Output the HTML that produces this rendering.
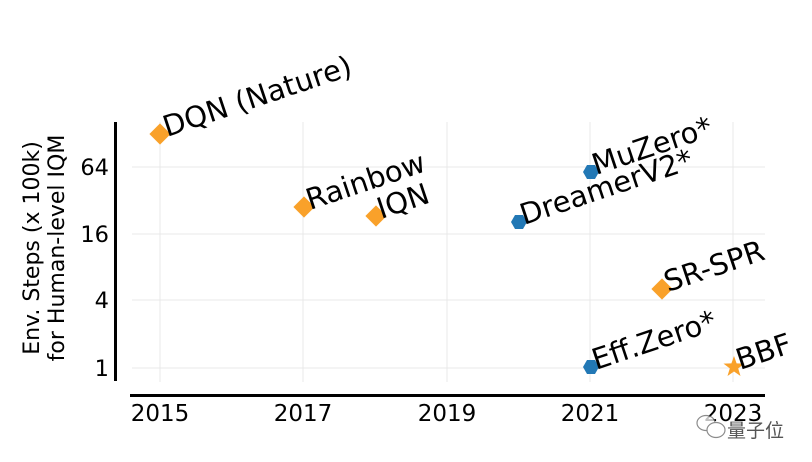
<!DOCTYPE html>
<html><head><meta charset="utf-8"><style>
html,body{margin:0;padding:0;background:#fff;}
svg{display:block;font-family:"DejaVu Sans","Liberation Sans",sans-serif;}
</style></head><body>
<svg width="812" height="462" viewBox="0 0 812 462" xmlns="http://www.w3.org/2000/svg">
<rect width="812" height="462" fill="#fff"/>
<g stroke="#e8e8e8" stroke-width="1">
<line x1="132" y1="368" x2="765" y2="368"/>
<line x1="132" y1="300" x2="765" y2="300"/>
<line x1="132" y1="234" x2="765" y2="234"/>
<line x1="132" y1="167" x2="765" y2="167"/>
<line x1="160" y1="122" x2="160" y2="382"/>
<line x1="303" y1="122" x2="303" y2="382"/>
<line x1="447" y1="122" x2="447" y2="382"/>
<line x1="590" y1="122" x2="590" y2="382"/>
<line x1="733" y1="122" x2="733" y2="382"/>
</g>
<line x1="115.5" y1="122" x2="115.5" y2="381" stroke="#000" stroke-width="3"/>
<line x1="130" y1="395.5" x2="765" y2="395.5" stroke="#000" stroke-width="3"/>
<g font-size="22.5" fill="#000" text-anchor="end">
<text x="109" y="376">1</text>
<text x="109" y="308">4</text>
<text x="109" y="242">16</text>
<text x="109" y="175">64</text>
</g>
<g font-size="23" fill="#000" text-anchor="middle">
<text x="160" y="421">2015</text>
<text x="303" y="421">2017</text>
<text x="447" y="421">2019</text>
<text x="590" y="421">2021</text>
<text x="733" y="421">2023</text>
</g>
<g font-size="22" fill="#000" text-anchor="middle">
<text transform="translate(39,248) rotate(-90)">Env. Steps (x 100k)</text>
<text transform="translate(64,248) rotate(-90)">for Human-level IQM</text>
</g>
<g fill="#f9a12a">
<rect x="-7.5" y="-7.5" width="15" height="15" transform="translate(160,134) rotate(45)"/>
<rect x="-7.5" y="-7.5" width="15" height="15" transform="translate(304,207) rotate(45)"/>
<rect x="-7.5" y="-7.5" width="15" height="15" transform="translate(376,216) rotate(45)"/>
<rect x="-7.5" y="-7.5" width="15" height="15" transform="translate(662,289) rotate(45)"/>
<polygon transform="translate(734,367)" points="0,-11 2.6,-3.6 10.5,-3.4 4.2,1.4 6.5,9 0,4.5 -6.5,9 -4.2,1.4 -10.5,-3.4 -2.6,-3.6"/>
</g>
<g fill="#2278b5">
<polygon transform="translate(519,222)" points="-8,0 -4,-7 4,-7 8,0 4,7 -4,7"/>
<polygon transform="translate(591,172)" points="-8,0 -4,-7 4,-7 8,0 4,7 -4,7"/>
<polygon transform="translate(591,367)" points="-8,0 -4,-7 4,-7 8,0 4,7 -4,7"/>
</g>
<g font-size="29" fill="#000">
<text transform="translate(167,137) rotate(-18.5)">DQN (Nature)</text>
<text transform="translate(310,210) rotate(-18.5)">Rainbow</text>
<text transform="translate(381,219) rotate(-18.5)">IQN</text>
<text transform="translate(524,225) rotate(-18.5)">DreamerV2*</text>
<text transform="translate(596,175) rotate(-18.5)">MuZero*</text>
<text transform="translate(668,292) rotate(-18.5)">SR-SPR</text>
<text transform="translate(596,370) rotate(-18.5)">Eff.Zero*</text>
<text transform="translate(740,370) rotate(-18.5)">BBF</text>
</g>
<g opacity="0.75" stroke="#666" fill="#fff" stroke-width="1.2">
<ellipse cx="706" cy="423" rx="9" ry="7.5"/>
<ellipse cx="716" cy="430" rx="9" ry="7.5"/>
</g>
<text x="727" y="437" font-size="19" fill="#555" font-family="'Noto Sans CJK SC',sans-serif">量子位</text>
</svg>
</body></html>
